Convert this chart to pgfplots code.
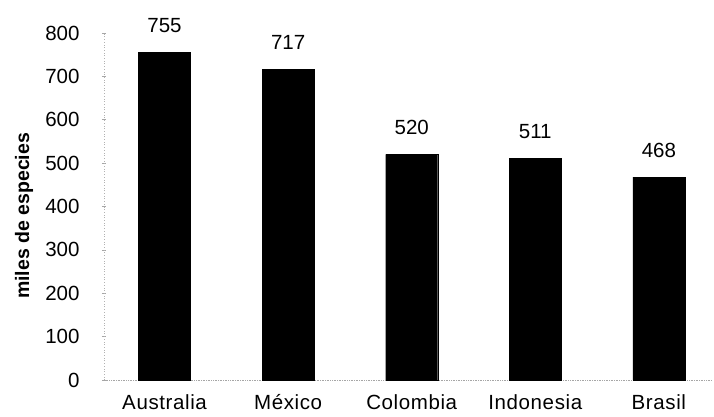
\documentclass[border=0pt]{standalone}
\usepackage{pgfplots}
\pgfplotsset{compat=1.18}
\usepackage{fontspec}
\setmainfont{Liberation Sans}
\begin{document}
\begin{tikzpicture}[x=1pt,y=1pt]
\useasboundingbox (0,0) rectangle (714,416);
\begin{axis}[
  at={(104pt,36pt)}, anchor=south west,
  scale only axis,
  width=608pt, height=347pt,
  xmin=-0.49, xmax=4.43,
  ymin=0, ymax=800,
  ytick={0,100,...,800},
  xtick={0,1,2,3,4},
  xticklabels={Australia,México,Colombia,Indonesia,Brasil},
  axis x line*=bottom, axis y line*=left,
  x axis line style={gray!70, densely dotted, line width=0.7pt},
  y axis line style={gray!60, dotted, line width=0.7pt},
  xtick style={draw=none},
  ytick style={gray!70, line width=0.6pt},
  major tick length=4pt,
  tick align=center,
  /pgf/number format/assume math mode=true,
  tick label style={font=\fontsize{20.5}{24}\selectfont},
  yticklabel style={xshift=-19pt},
  xticklabel style={yshift=-9pt, font=\fontsize{20.5}{24}\selectfont\addfontfeatures{LetterSpace=3}},
  ylabel={miles de especies},
  every axis y label/.style={at={(axis description cs:-0.1316,0.473)}, rotate=90, anchor=center, font=\bfseries\fontsize{19.5}{22}\selectfont},
  clip=false,
  nodes near coords,
  every node near coord/.append style={font=\fontsize{20.5}{24}\selectfont, yshift=16pt, black},
]
\addplot[ybar, bar width=52pt, fill=black, draw=black] coordinates {
  (0,755) (1,717) (2,520) (3,511) (4,468)
};
\end{axis}
\end{tikzpicture}
\end{document}
